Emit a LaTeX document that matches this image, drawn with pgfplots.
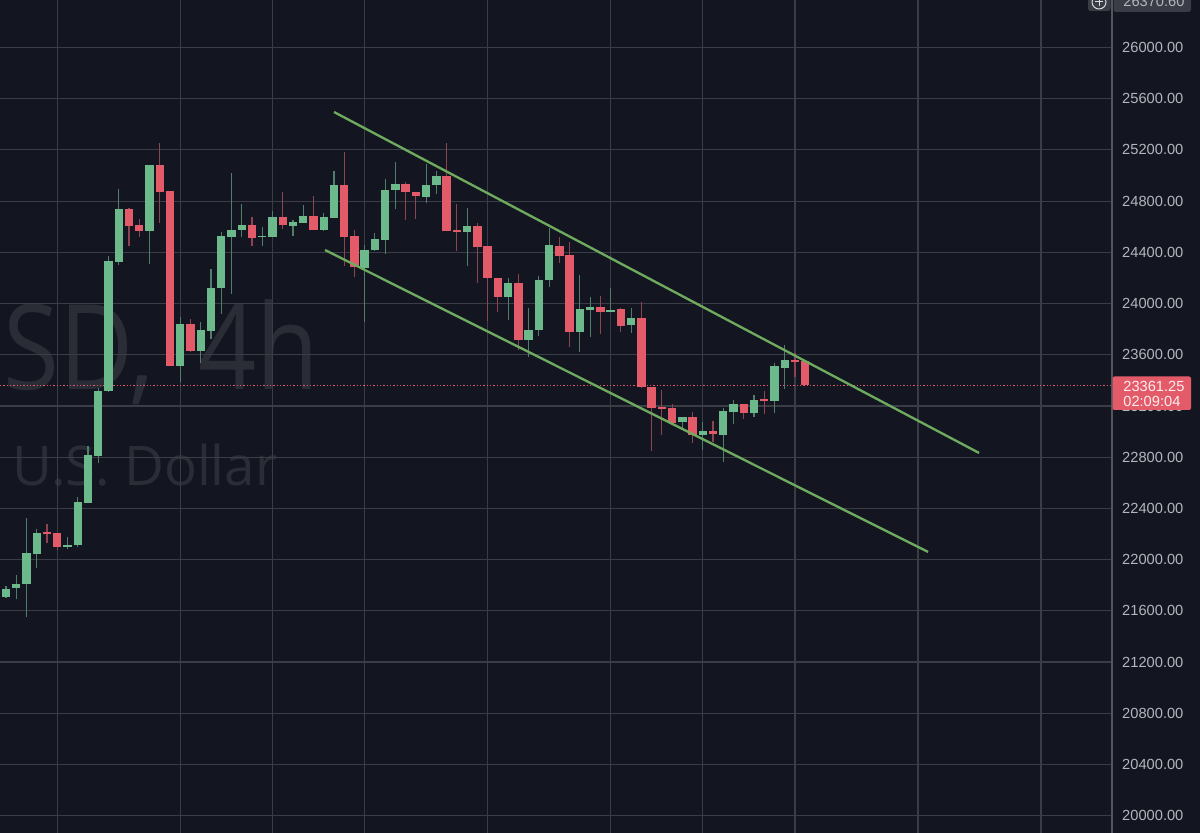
\documentclass[border=0pt]{standalone}
\usepackage{fontspec}
\setmainfont{Liberation Sans}
\newfontfamily\wmfont{Open Sans}
\usepackage{pgfplots}
\usepackage{pgfplotstable}
\pgfplotsset{compat=1.18}
\definecolor{bg}{HTML}{131621}
\definecolor{gridc}{HTML}{3A3C46}
\definecolor{up}{HTML}{6CB98C}
\definecolor{dn}{HTML}{E35A68}
\definecolor{upw}{HTML}{4F7F69}
\definecolor{dnw}{HTML}{8E4350}
\definecolor{chan}{HTML}{6FAB5E}
\definecolor{wm}{HTML}{2B2D36}
\definecolor{lab}{HTML}{B4B6BD}
\pgfplotstableread{
x o h l c
-1 21724 21794 21708 21779
0 21711 21794 21701 21773
1 21776 21880 21690 21812
2 21812 22323 21550 22050
3 22042 22237 21937 22211
6 22099 22175 22081 22114
7 22112 22487 22101 22448
8 22443 22890 22440 22817
9 22810 23338 22753 23320
10 23320 24372 23312 24330
11 24325 24897 24301 24739
14 24567 25085 24309 25080
17 23515 23898 23388 23841
19 23632 23858 23538 23791
20 23786 24270 23721 24124
21 24124 24557 23919 24528
22 24520 25018 24075 24575
23 24575 24778 24522 24616
25 24518 24596 24452 24528
26 24522 24723 24520 24679
28 24608 24653 24530 24637
29 24632 24772 24632 24684
31 24575 24705 24569 24674
32 24671 25038 24666 24928
35 24280 24457 23858 24418
36 24416 24549 24411 24502
37 24499 24975 24387 24887
38 24887 25108 24736 24936
41 24832 25088 24788 24928
42 24926 25038 24856 24996
45 24561 24744 24294 24606
49 24054 24202 23872 24161
51 23716 23968 23585 23791
52 23791 24215 23749 24184
53 24182 24588 24132 24455
56 23780 24223 23624 23958
57 23952 24049 23739 23973
59 23937 24119 23937 23952
61 23830 23963 23770 23890
66 23075 23117 23026 23117
68 22971 23078 22857 23005
70 22976 23182 22760 23159
71 23153 23245 23060 23213
73 23143 23286 23117 23249
75 23239 23534 23143 23512
76 23499 23674 23333 23557
}\greentable
\pgfplotstableread{
x o h l c
4 22214 22279 22133 22203
5 22206 22211 22075 22097
12 24739 24749 24452 24606
13 24611 24663 24518 24567
15 25080 25252 24627 24874
16 24879 24879 23510 23515
18 23841 23880 23620 23630
24 24616 24674 24447 24515
27 24679 24871 24580 24611
30 24684 24840 24575 24575
33 24928 25186 24296 24520
34 24525 24575 24208 24283
39 24936 24952 24653 24871
40 24874 24874 24663 24838
43 24996 25256 24567 24567
44 24572 24778 24413 24561
46 24606 24627 24163 24442
47 24447 24447 23866 24200
48 24202 24202 23937 24054
50 24161 24229 23637 23716
54 24452 24518 24319 24374
55 24379 24483 23659 23776
58 23976 24059 23765 23934
60 23958 23963 23780 23825
62 23890 24015 23338 23346
63 23346 23346 22846 23184
64 23190 23325 22974 23177
65 23184 23213 23060 23065
67 23117 23156 22909 22971
69 23003 23083 22921 22981
72 23218 23218 23096 23143
74 23252 23317 23135 23239
77 23557 23612 23429 23544
78 23554 23554 23361 23361
}\redtable
\newcommand{\px}[2]{({#1*0.6pt},{(833-#2)*0.6pt})}
\begin{document}
\begin{tikzpicture}[x=1pt,y=1pt]
\path[use as bounding box,clip] (0,0) rectangle (720pt,499.8pt);
\fill[bg] (0,0) rectangle (720pt,499.8pt);
\node[anchor=base west,inner sep=0pt,text=wm,font=\wmfont\fontsize{71}{71}\selectfont] at \px{3}{390} {\scalebox{0.86}[1]{SD,}};
\node[anchor=base west,inner sep=0pt,text=wm,font=\wmfont\fontsize{71}{71}\selectfont] at \px{198}{390} {\scalebox{0.86}[1]{4h}};
\node[anchor=base west,inner sep=0pt,text=wm,font=\wmfont\fontsize{32.8}{33}\selectfont] at \px{12}{486} {U.S. Dollar};
\begin{axis}[
  at={(0,0)},anchor=south west,scale only axis,
  width=667.2pt,height=499.8pt,
  xmin=-0.5855,xmax=107.93,ymin=19865,ymax=26371,
  axis line style={draw=none},
  major tick length=0pt,
  xtick={5,17,26,35,47,59,68,77,89,101},
  xticklabels={},
  ytick={20000,20400,...,26000},
  scaled y ticks=false,
  ymajorgrids,xmajorgrids,
  grid style={gridc,line width=0.7pt},
  ticklabel pos=right,
  yticklabel style={anchor=west,xshift=2.6pt,text=lab,font=\fontsize{8.8}{10}\selectfont},
  /pgf/number format/.cd,fixed,fixed zerofill,precision=2,1000 sep={},assume math mode=true,
]
\addplot[dn,dash pattern=on 0.75pt off 1.25pt,line width=0.8pt,forget plot] coordinates {(-0.5855,23361) (107.93,23361)};
% wicks
\addplot[draw=none,mark=none,forget plot,error bars/.cd,y dir=plus,y explicit,error mark=none,error bar style={upw,line width=0.7pt}]
  table[x=x,y=l,y error plus expr=\thisrow{h}-\thisrow{l}] {\greentable};
\addplot[draw=none,mark=none,forget plot,error bars/.cd,y dir=plus,y explicit,error mark=none,error bar style={dnw,line width=0.7pt}]
  table[x=x,y=l,y error plus expr=\thisrow{h}-\thisrow{l}] {\redtable};
% bodies
\addplot[draw=none,mark=none,forget plot,error bars/.cd,y dir=plus,y explicit,error mark=none,error bar style={up,line width=5pt}]
  table[x=x,y=o,y error plus expr=\thisrow{c}-\thisrow{o}] {\greentable};
\addplot[draw=none,mark=none,forget plot,error bars/.cd,y dir=plus,y explicit,error mark=none,error bar style={dn,line width=5pt}]
  table[x=x,y=c,y error plus expr=\thisrow{o}-\thisrow{c}] {\redtable};
% channel
\addplot[chan,line width=1.4pt,forget plot] coordinates {(32.01,25496) (94.96,22833)};
\addplot[chan,line width=1.4pt,forget plot] coordinates {(31.13,24418) (89.98,22060)};
\end{axis}
\draw[gray!60!bg,line width=0.75pt] \px{1112}{0} -- \px{1112}{833};
% top-right scale controls
\fill[rounded corners=1.5pt,fill=gridc] \px{1088}{-5} rectangle \px{1110.5}{11};
\fill[rounded corners=1.5pt,fill=gridc] \px{1113.5}{-5} rectangle \px{1191}{12};
\draw[white!85!bg,line width=0.6pt] \px{1099}{2} circle (4.2pt);
\draw[white!85!bg,line width=0.6pt] \px{1095}{2} -- \px{1103}{2} \px{1099}{-2} -- \px{1099}{6};
\node[anchor=west,inner sep=0pt,text=lab,font=\fontsize{8.8}{10}\selectfont] at \px{1123}{1.5} {26370.60};
% price tag
\fill[dn,rounded corners=1.2pt] \px{1112.5}{376.5} rectangle \px{1191}{410};
\node[anchor=west,inner sep=0pt,text=white!90!dn,font=\fontsize{8.8}{10}\selectfont] at \px{1123}{386.5} {23361.25};
\node[anchor=west,inner sep=0pt,text=white!90!dn,font=\fontsize{8.8}{10}\selectfont] at \px{1123}{401.5} {02:09:04};
\end{tikzpicture}
\end{document}
